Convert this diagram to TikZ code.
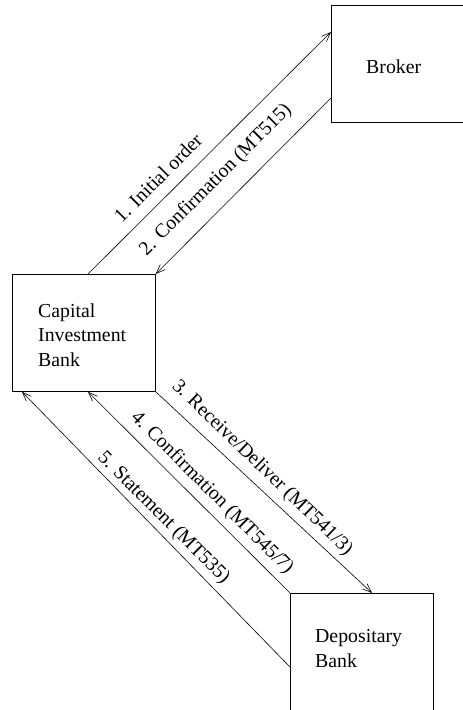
\documentclass[tikz,border=0pt]{standalone}
\usepackage{fontspec}
\setmainfont{Liberation Serif}
\usetikzlibrary{arrows.meta}
\begin{document}
\begin{tikzpicture}[x=1pt,y=-1pt,
  box/.style={draw, line width=0.8pt, rectangle, inner sep=0pt, anchor=north west},
  lbl/.style={font=\fontsize{19.8}{24.5}\selectfont, inner sep=0pt},
  msg/.style={line width=0.6pt, -{Straight Barb[length=9pt,width=7pt]}},
]
\useasboundingbox (0,0) rectangle (463,710);
% boxes
\node[box, minimum width=145pt, minimum height=117pt] (broker) at (331,5) {};
\node[box, minimum width=143pt, minimum height=117pt] (cib) at (12,274) {};
\node[box, minimum width=143pt, minimum height=130pt] (dep) at (290,593) {};
% box texts
\node[lbl, anchor=base west] (brokertext) at (366,73) {Broker};
\node[lbl, anchor=north west, align=left] (cibtext) at (38,303.5) {Capital\\Investment\\Bank};
\node[lbl, anchor=north west, align=left] (deptext) at (315,629.5) {Depositary\\Bank};
% connection points
\coordinate (c1s) at ([xshift=76pt]cib.north west);
\coordinate (c1e) at ([yshift=-27pt]broker.north west);
\coordinate (c2s) at ([yshift=-93pt]broker.north west);
\coordinate (c3e) at ([xshift=82pt]dep.north west);
\coordinate (c4e) at ([xshift=76pt]cib.south west);
\coordinate (c5s) at ([yshift=-74pt]dep.north west);
\coordinate (c5e) at ([xshift=10pt]cib.south west);
% messages
\draw[msg] (c1s) -- (c1e);
\draw[msg] (c2s) -- (cib.north east);
\draw[msg] (cib.south east) -- (c3e);
\draw[msg] (dep.north west) -- (c4e);
\draw[msg] (c5s) -- (c5e);
% message labels
\node[lbl, rotate=45] (l1) at (158,178) {1. Initial order};
\node[lbl, rotate=45] (l2) at (216,180) {2. Confirmation (MT515)};
\node[lbl, rotate=-44] (l3) at (262,468) {3. Receive/Deliver (MT541/3)};
\node[lbl, rotate=-45] (l4) at (212,493) {4. Confirmation (MT545/7)};
\node[lbl, rotate=-45] (l5) at (163.5,518) {5. Statement (MT535)};
\end{tikzpicture}
\end{document}
